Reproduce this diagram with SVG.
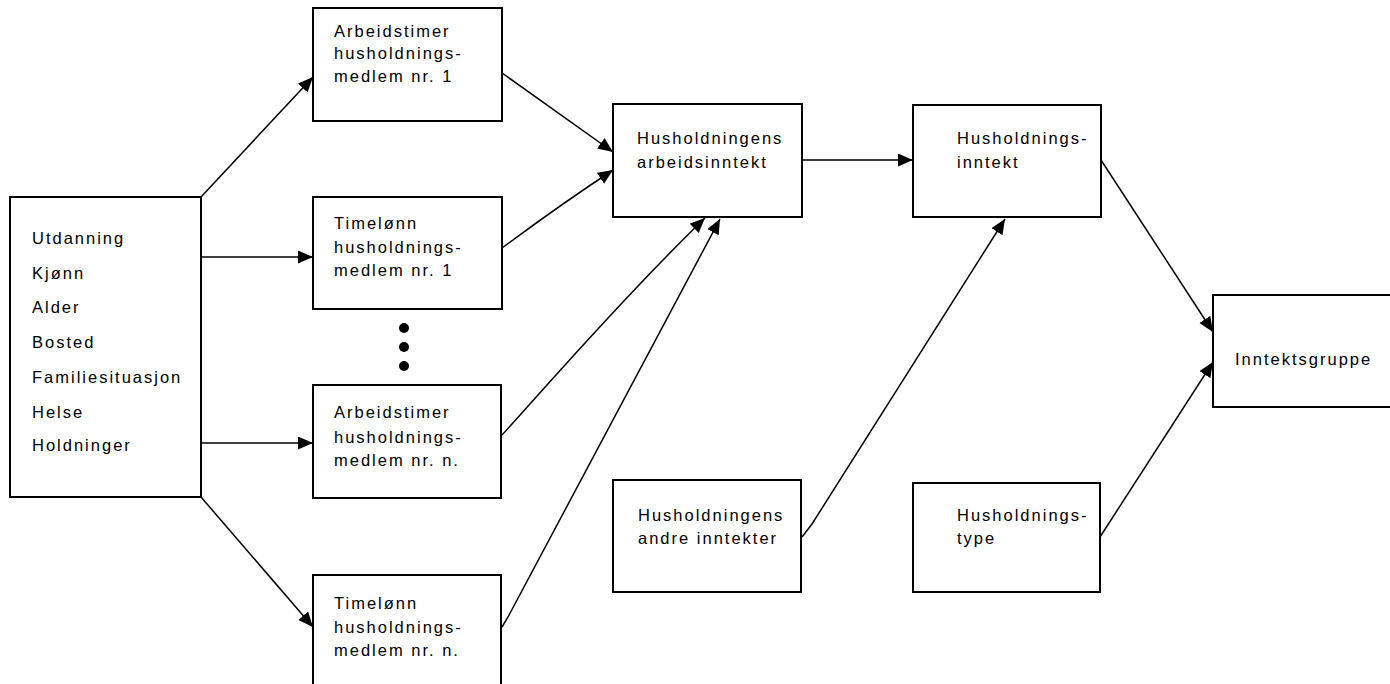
<svg xmlns="http://www.w3.org/2000/svg" width="1390" height="684" viewBox="0 0 1390 684">
<defs>
<marker id="ah" markerUnits="userSpaceOnUse" markerWidth="16" markerHeight="14" refX="15" refY="6.5" orient="auto">
<path d="M0,0 L15,6.5 L0,13 z" fill="#000"/>
</marker>
<style>
.box{fill:#fff;stroke:#000;stroke-width:2}
.t{font-family:"Liberation Sans",Arial,sans-serif;font-size:16.5px;letter-spacing:2px;fill:#000}
.c{fill:none;stroke:#000;stroke-width:1.5;marker-end:url(#ah)}
</style>
</defs>
<rect width="1390" height="684" fill="#fff"/>
<g id="connectors">
<path class="c" d="M201,197 L313,77"/>
<path class="c" d="M201,257 L313,257"/>
<path class="c" d="M201,443 L313,443"/>
<path class="c" d="M201,497 L313,627"/>
<path class="c" d="M502,73 L613,152"/>
<path class="c" d="M502,248 Q560,205 613,170"/>
<path class="c" d="M502,435 C530,405 620,300 705,218"/>
<path class="c" d="M502,627 L508,617 L720,219"/>
<path class="c" d="M803,160 L913,160"/>
<path class="c" d="M802,537 L812,524 L1005,219"/>
<path class="c" d="M1101,160 L1213,332"/>
<path class="c" d="M1100,537 L1213,362"/>
</g>
<g id="n-left">
<rect class="box" x="10" y="197" width="191" height="300"/>
<text class="t" x="32" y="244">Utdanning</text>
<text class="t" x="32" y="279">Kjønn</text>
<text class="t" x="32" y="313">Alder</text>
<text class="t" x="32" y="348">Bosted</text>
<text class="t" x="32" y="383">Familiesituasjon</text>
<text class="t" x="32" y="418">Helse</text>
<text class="t" x="32" y="451">Holdninger</text>
</g>
<g id="n-arb1">
<rect class="box" x="313" y="8" width="189" height="113"/>
<text class="t" x="334" y="37">Arbeidstimer</text>
<text class="t" x="334" y="59">husholdnings-</text>
<text class="t" x="334" y="82">medlem nr. 1</text>
</g>
<g id="n-tim1">
<rect class="box" x="313" y="197" width="189" height="112"/>
<text class="t" x="334" y="229">Timelønn</text>
<text class="t" x="334" y="253">husholdnings-</text>
<text class="t" x="334" y="276">medlem nr. 1</text>
</g>
<g id="n-dots">
<circle cx="404" cy="328" r="5"/>
<circle cx="404" cy="347" r="5"/>
<circle cx="404" cy="366" r="5"/>
</g>
<g id="n-arbn">
<rect class="box" x="313" y="385" width="188" height="113"/>
<text class="t" x="334" y="418">Arbeidstimer</text>
<text class="t" x="334" y="443">husholdnings-</text>
<text class="t" x="334" y="466">medlem nr. n.</text>
</g>
<g id="n-timn">
<rect class="box" x="313" y="575" width="188" height="112"/>
<text class="t" x="334" y="609">Timelønn</text>
<text class="t" x="334" y="633">husholdnings-</text>
<text class="t" x="334" y="656">medlem nr. n.</text>
</g>
<g id="n-harb">
<rect class="box" x="613" y="104" width="189" height="113"/>
<text class="t" x="637" y="144">Husholdningens</text>
<text class="t" x="637" y="168">arbeidsinntekt</text>
</g>
<g id="n-handre">
<rect class="box" x="613" y="480" width="188" height="112"/>
<text class="t" x="638" y="521">Husholdningens</text>
<text class="t" x="638" y="544">andre inntekter</text>
</g>
<g id="n-hinnt">
<rect class="box" x="913" y="105" width="188" height="112"/>
<text class="t" x="957" y="144">Husholdnings-</text>
<text class="t" x="957" y="168">inntekt</text>
</g>
<g id="n-htype">
<rect class="box" x="913" y="483" width="187" height="109"/>
<text class="t" x="957" y="521">Husholdnings-</text>
<text class="t" x="957" y="544">type</text>
</g>
<g id="n-igr">
<rect class="box" x="1213" y="295" width="200" height="112"/>
<text class="t" x="1235" y="365">Inntektsgruppe</text>
</g>
</svg>
